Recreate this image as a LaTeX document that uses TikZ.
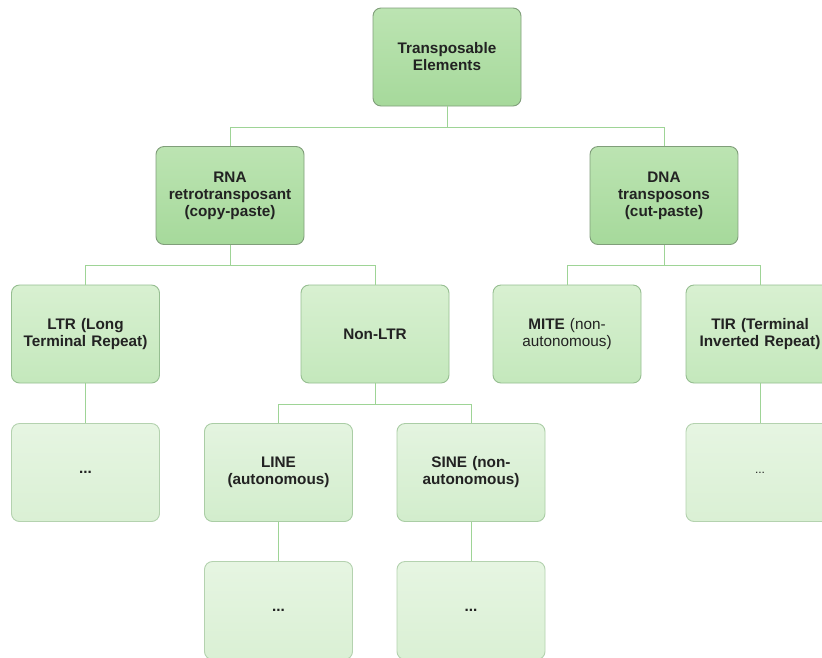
\documentclass[tikz,border=0pt]{standalone}
\usepackage{fontspec}
\setmainfont{Liberation Sans}
\definecolor{lvlAtop}{RGB}{188,228,178}
\definecolor{lvlAbot}{RGB}{166,217,155}
\definecolor{lvlAline}{RGB}{128,158,122}
\definecolor{lvlBtop}{RGB}{216,240,209}
\definecolor{lvlBbot}{RGB}{196,232,188}
\definecolor{lvlBline}{RGB}{150,190,145}
\definecolor{lvlCtop}{RGB}{228,244,224}
\definecolor{lvlCbot}{RGB}{210,237,204}
\definecolor{lvlCline}{RGB}{170,205,165}
\definecolor{leaftop}{RGB}{230,245,226}
\definecolor{leafbot}{RGB}{218,240,212}
\definecolor{leafline}{RGB}{180,210,175}
\definecolor{wire}{RGB}{158,212,150}
\definecolor{ink}{RGB}{34,34,34}
\tikzset{
  tebox/.style={rectangle, rounded corners=8pt, minimum width=148pt, minimum height=98pt,
    text width=140pt, align=center, font=\fontsize{15.3}{17}\selectfont\bfseries,
    text=ink, line width=0.9pt},
  lvlA/.style={tebox, top color=lvlAtop, bottom color=lvlAbot, draw=lvlAline},
  lvlB/.style={tebox, top color=lvlBtop, bottom color=lvlBbot, draw=lvlBline},
  lvlC/.style={tebox, top color=lvlCtop, bottom color=lvlCbot, draw=lvlCline},
  leaf/.style={tebox, top color=leaftop, bottom color=leafbot, draw=leafline},
  wire/.style={draw=wire, line width=1pt},
}
\begin{document}
\begin{tikzpicture}[x=1pt, y=-1pt]
  \useasboundingbox (0,0) rectangle (822,657);
  \clip (0,0) rectangle (822,657);
  \fill[white] (0,0) rectangle (822,657);

  % top level
  \node[lvlA] (te)  at (447,57)    {Transposable\\Elements};
  \node[lvlA] (rna) at (230,195.5) {RNA\\retrotransposant\\(copy-paste)};
  \node[lvlA] (dna) at (664,195.5) {DNA\\transposons\\(cut-paste)};

  % second level
  \node[lvlB] (ltr)  at (85.5,334) {LTR (Long\\Terminal Repeat)};
  \node[lvlB] (nltr) at (375,334)  {Non-LTR};
  \node[lvlB] (mite) at (567,334)  {MITE \mdseries(non-\\autonomous)};
  \node[lvlB] (tir)  at (760,334)  {TIR (Terminal\\Inverted Repeat)};

  % third level
  \node[leaf] (ltrx) at (85.5,472.5) {...};
  \node[lvlC] (line) at (278.5,472.5) {LINE\\(autonomous)};
  \node[lvlC] (sine) at (471,472.5)   {SINE (non-\\autonomous)};
  \node[leaf, font=\fontsize{12}{14}\selectfont] (tirx) at (760,472.5) {...};

  % fourth level
  \node[leaf] (linex) at (278.5,610.5) {...};
  \node[leaf] (sinex) at (471,610.5)   {...};

  % connectors
  \draw[wire] (te.south) -- ++(0,21) -| (rna.north);
  \draw[wire] (te.south) -- ++(0,21) -| (dna.north);
  \draw[wire] (rna.south) -- ++(0,21) -| (ltr.north);
  \draw[wire] (rna.south) -- ++(0,21) -| (nltr.north);
  \draw[wire] (dna.south) -- ++(0,21) -| (mite.north);
  \draw[wire] (dna.south) -- ++(0,21) -| (tir.north);
  \draw[wire] (nltr.south) -- ++(0,21) -| (line.north);
  \draw[wire] (nltr.south) -- ++(0,21) -| (sine.north);
  \draw[wire] (ltr.south) -- (ltrx.north);
  \draw[wire] (tir.south) -- (tirx.north);
  \draw[wire] (line.south) -- (linex.north);
  \draw[wire] (sine.south) -- (sinex.north);
\end{tikzpicture}
\end{document}
